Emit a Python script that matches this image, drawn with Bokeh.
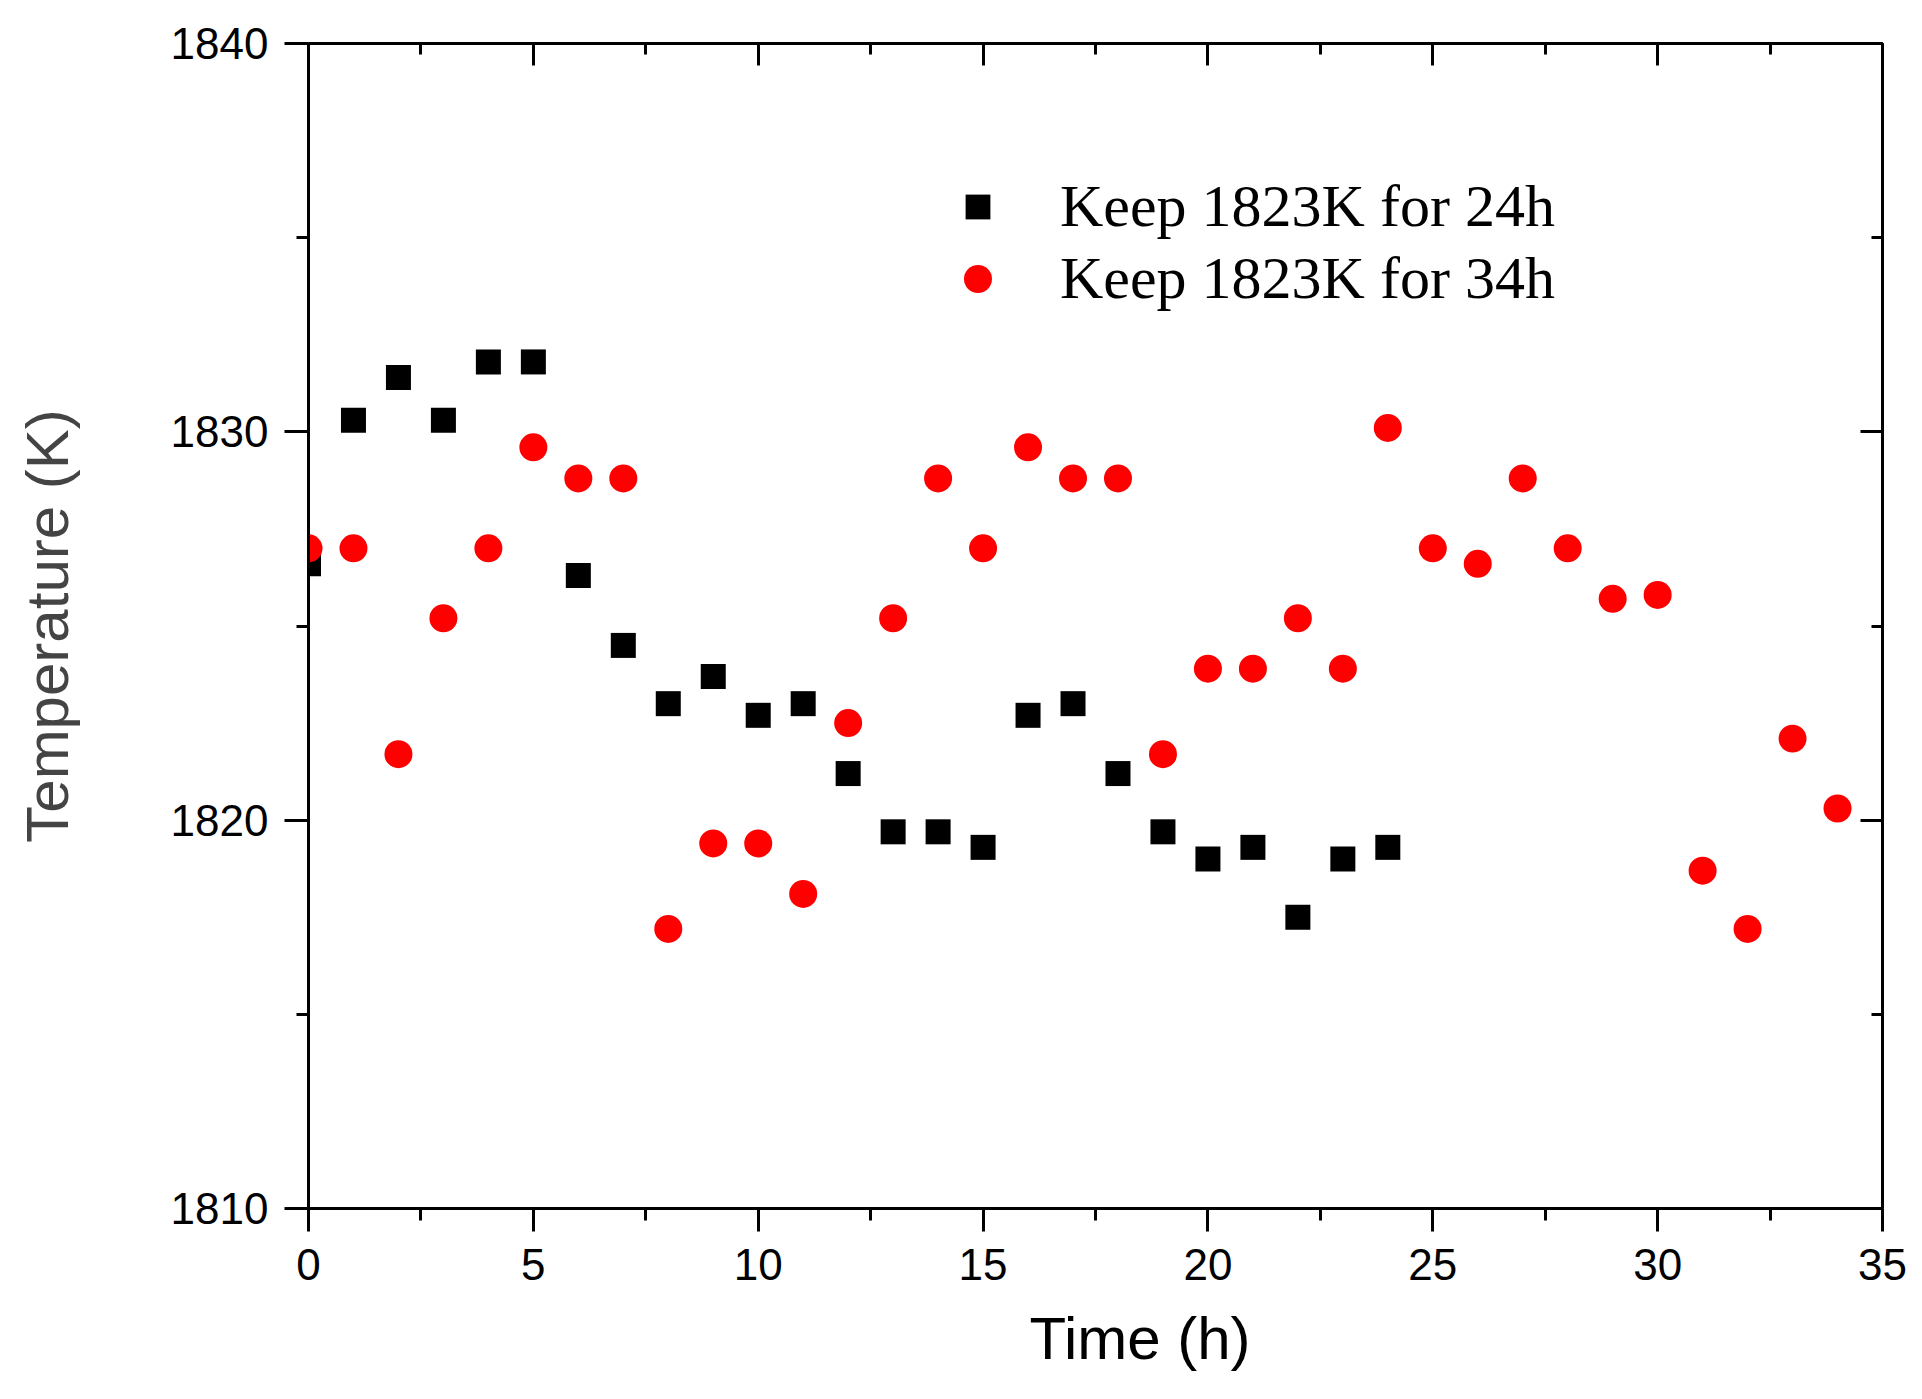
from bokeh.plotting import figure
from bokeh.models import (Range1d, LinearAxis, SingleIntervalTicker, Legend, LegendItem,
                          Title, CustomJSTickFormatter)
from bokeh.embed import file_html
from bokeh.resources import INLINE

# ---- data ----
time_24h = list(range(0, 25))
temp_24h = [1826.6, 1830.3, 1831.4, 1830.3, 1831.8, 1831.8, 1826.3, 1824.5, 1823.0, 1823.7,
            1822.7, 1823.0, 1821.2, 1819.7, 1819.7, 1819.3, 1822.7, 1823.0, 1821.2, 1819.7,
            1819.0, 1819.3, 1817.5, 1819.0, 1819.3]
time_34h = list(range(0, 35))
temp_34h = [1827.0, 1827.0, 1821.7, 1825.2, 1827.0, 1829.6, 1828.8, 1828.8, 1817.2, 1819.4,
            1819.4, 1818.1, 1822.5, 1825.2, 1828.8, 1827.0, 1829.6, 1828.8, 1828.8, 1821.7,
            1823.9, 1823.9, 1825.2, 1823.9, 1830.1, 1827.0, 1826.6, 1828.8, 1827.0, 1825.7,
            1825.8, 1818.7, 1817.2, 1822.1, 1820.3]
labels = ["Keep 1823K for 24h", "Keep 1823K for 34h"]
x_title = "Time (h)"
y_title = "Temperature (K)"

SANS = "Liberation Sans"
SERIF = "Liberation Serif"

p = figure(width=1912, height=1391, x_range=Range1d(0, 35), y_range=Range1d(1810, 1840),
           output_backend="svg", toolbar_location=None,
           min_border_left=308, min_border_right=30, min_border_top=43, min_border_bottom=182,
           x_axis_location=None, y_axis_location=None)
p.outline_line_color = None
p.background_fill_color = "white"
p.border_fill_color = "white"
p.xgrid.visible = False
p.ygrid.visible = False


def base_style(ax):
    ax.axis_line_width = 3
    ax.axis_line_color = "black"
    ax.major_tick_line_width = 3
    ax.minor_tick_line_width = 3
    ax.major_tick_line_color = "black"
    ax.minor_tick_line_color = "black"
    ax.major_label_text_font = SANS
    ax.major_label_text_font_size = "44px"
    ax.major_label_text_color = "black"


def hide_labels(ax):
    ax.formatter = CustomJSTickFormatter(code="return ''")
    ax.major_label_text_font_size = "1px"
    ax.major_label_standoff = 0


bottom = LinearAxis(ticker=SingleIntervalTicker(interval=5, num_minor_ticks=2))
base_style(bottom)
bottom.major_tick_out = 23
bottom.major_tick_in = 0
bottom.minor_tick_out = 12
bottom.minor_tick_in = 0
bottom.major_label_standoff = 17
p.add_layout(bottom, "below")

left = LinearAxis(ticker=SingleIntervalTicker(interval=10, num_minor_ticks=2))
base_style(left)
left.major_tick_out = 24
left.major_tick_in = 0
left.minor_tick_out = 12
left.minor_tick_in = 0
left.major_label_standoff = 16
left.axis_label = y_title
left.axis_label_text_font = SANS
left.axis_label_text_font_size = "60px"
left.axis_label_text_font_style = "normal"
left.axis_label_standoff = 87
p.add_layout(left, "left")

top = LinearAxis(ticker=SingleIntervalTicker(interval=5, num_minor_ticks=2))
base_style(top)
hide_labels(top)
top.major_tick_out = 0
top.major_tick_in = 22
top.minor_tick_out = 0
top.minor_tick_in = 11
p.add_layout(top, "above")

right = LinearAxis(ticker=SingleIntervalTicker(interval=10, num_minor_ticks=2))
base_style(right)
hide_labels(right)
right.major_tick_out = 0
right.major_tick_in = 22
right.minor_tick_out = 0
right.minor_tick_in = 11
p.add_layout(right, "right")

p.add_layout(Title(text=x_title, align="left", offset=721, text_font=SANS,
                   text_font_size="60px", text_font_style="normal", standoff=40,
                   text_color="black"), "below")

r1 = p.rect(x=time_24h, y=temp_24h, width=25, height=25, width_units="screen",
            height_units="screen", fill_color="black", line_color=None)
r2 = p.ellipse(x=time_34h, y=temp_34h, width=28, height=28, width_units="screen",
               height_units="screen", fill_color="#ff0000", line_color=None)


def make_legend(label, renderer, loc, gw, gh, standoff):
    return Legend(items=[LegendItem(label=label, renderers=[renderer])], location=loc,
                  glyph_width=gw, glyph_height=gh, label_standoff=standoff,
                  padding=0, margin=0, spacing=0, border_line_color=None,
                  background_fill_alpha=0, label_text_font=SERIF,
                  label_text_font_size="60px", label_text_color="black")


p.add_layout(make_legend(labels[0], r1, (654, 967), 31, 31, 67))
p.add_layout(make_legend(labels[1], r2, (652, 895), 35, 35, 65))

open("out.html", "w").write(file_html(p, INLINE))
